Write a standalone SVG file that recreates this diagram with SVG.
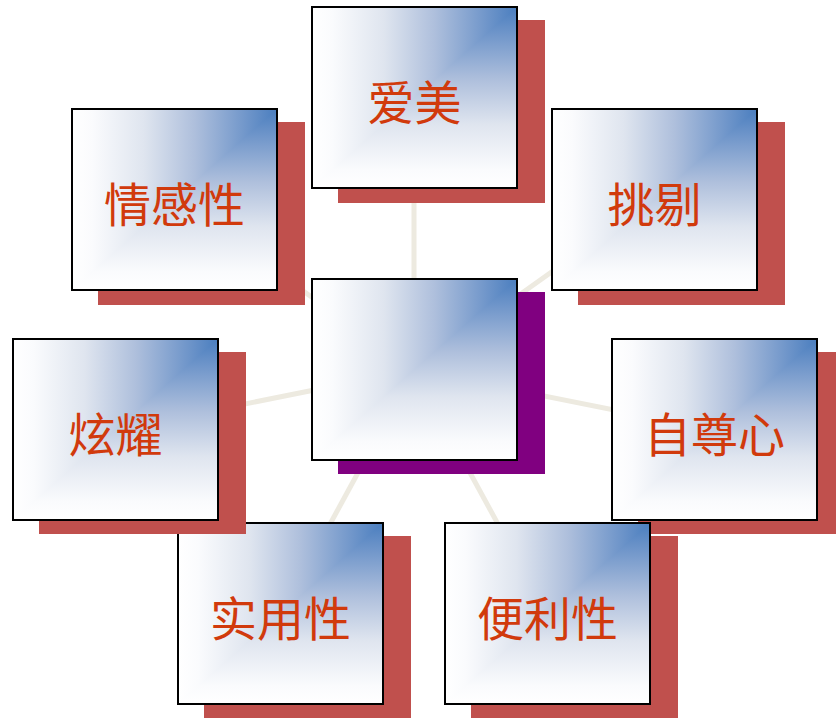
<svg xmlns="http://www.w3.org/2000/svg" width="836" height="718" viewBox="0 0 836 718">
<style>
.conn{stroke:#edeae0;stroke-width:5;fill:none}
.sh{fill:#c0504d}
.shc{fill:#800080}
.frame{fill:none;stroke:#000;stroke-width:2}
.lbl{font-family:"Noto Sans CJK SC","Noto Sans CJK JP",sans-serif;font-size:47px;fill:#d13a0c;text-anchor:middle;dominant-baseline:central}
</style>
<defs>
<linearGradient id="gh" x1="0" y1="0" x2="1" y2="0">
<stop offset="0" stop-color="#ffffff"/>
<stop offset="0.1" stop-color="#fafbfd"/>
<stop offset="0.35" stop-color="#dfe5ef"/>
<stop offset="0.6" stop-color="#aebfdc"/>
<stop offset="0.85" stop-color="#7096ca"/>
<stop offset="1" stop-color="#4a7ebf"/>
</linearGradient>
<linearGradient id="gv" x1="0" y1="1" x2="0" y2="0">
<stop offset="0" stop-color="#ffffff"/>
<stop offset="0.1" stop-color="#fafbfd"/>
<stop offset="0.35" stop-color="#dfe5ef"/>
<stop offset="0.6" stop-color="#aebfdc"/>
<stop offset="0.85" stop-color="#7096ca"/>
<stop offset="1" stop-color="#4a7ebf"/>
</linearGradient>
<g id="box">
<rect x="0" y="0" width="205" height="181" fill="url(#gv)"/>
<polygon points="0,0 205,0 0,181" fill="url(#gh)"/>
<rect x="0" y="0" width="205" height="181" class="frame"/>
</g>
</defs>
<g id="connectors">
<line class="conn" x1="414" y1="370" x2="414" y2="97"/>
<line class="conn" x1="414" y1="370" x2="654" y2="199"/>
<line class="conn" x1="414" y1="370" x2="714" y2="430"/>
<line class="conn" x1="414" y1="370" x2="547" y2="614"/>
<line class="conn" x1="414" y1="370" x2="281" y2="614"/>
<line class="conn" x1="414" y1="370" x2="115" y2="430"/>
<line class="conn" x1="414" y1="370" x2="174" y2="199"/>
</g>
<g id="node-aimei">
<rect class="sh" x="338" y="20" width="207" height="183"/>
<use href="#box" x="312" y="7"/>
<text class="lbl" x="414.5" y="99">爱美</text>
</g>
<g id="node-tiaoti">
<rect class="sh" x="578" y="122" width="207" height="183"/>
<use href="#box" x="552" y="109"/>
<text class="lbl" x="654.5" y="201">挑剔</text>
</g>
<g id="node-zizunxin">
<rect class="sh" x="638" y="352" width="207" height="182"/>
<use href="#box" x="612" y="339"/>
<text class="lbl" x="714.5" y="431">自尊心</text>
</g>
<g id="node-bianlixing">
<rect class="sh" x="471" y="536" width="207" height="183"/>
<use href="#box" x="445" y="523"/>
<text class="lbl" x="547.5" y="615">便利性</text>
</g>
<g id="node-shiyongxing">
<rect class="sh" x="204" y="536" width="207" height="183"/>
<use href="#box" x="178" y="523"/>
<text class="lbl" x="280.5" y="615">实用性</text>
</g>
<g id="node-xuanyao">
<rect class="sh" x="39" y="352" width="207" height="182"/>
<use href="#box" x="13" y="339"/>
<text class="lbl" x="115.5" y="431">炫耀</text>
</g>
<g id="node-qingganxing">
<rect class="sh" x="98" y="122" width="207" height="183"/>
<use href="#box" x="72" y="109"/>
<text class="lbl" x="174.5" y="201">情感性</text>
</g>
<g id="node-center">
<rect class="shc" x="338" y="292" width="207" height="182"/>
<use href="#box" x="312" y="279"/>
</g>
</svg>
